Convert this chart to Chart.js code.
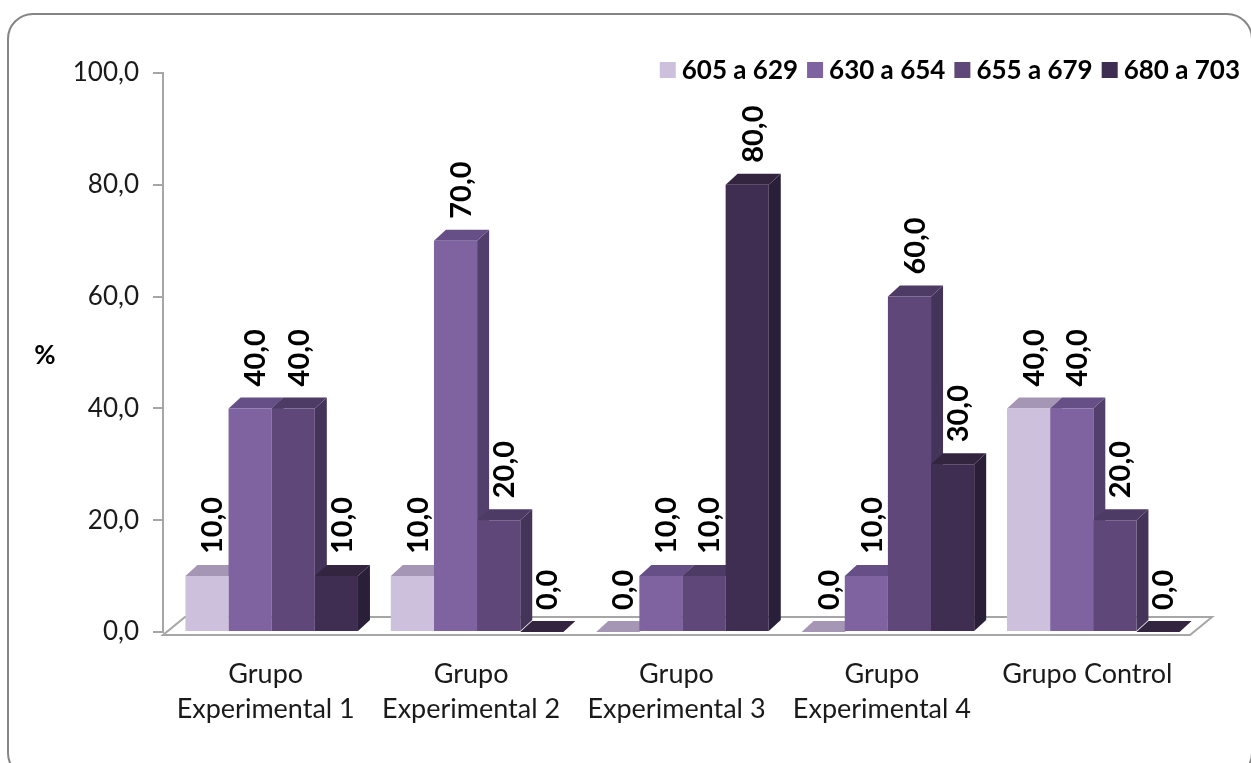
<!DOCTYPE html>
<html>
<head>
<meta charset="utf-8">
<script src="https://cdn.jsdelivr.net/npm/chart.js@4.4.0/dist/chart.umd.min.js"></script>
<style>
  html, body { margin: 0; padding: 0; background: #fff; }
  #wrap { position: relative; width: 1251px; height: 763px; overflow: hidden; }
  #frame {
    position: absolute; left: 7px; top: 13px; width: 1246px; height: 766px;
    border: 2px solid #858585; border-radius: 26px; box-sizing: border-box;
  }
  #myChart { position: absolute; left: 0; top: 0; }
</style>
</head>
<body>
<div id="wrap">
  <div id="frame"></div>
  <canvas id="myChart" width="1251" height="763"></canvas>
</div>
<script>
// categories and series
const grupos = [
  ["Grupo", "Experimental 1"],
  ["Grupo", "Experimental 2"],
  ["Grupo", "Experimental 3"],
  ["Grupo", "Experimental 4"],
  "Grupo Control"
];
const rangos = ["605 a 629", "630 a 654", "655 a 679", "680 a 703"];
const r605 = [10, 10, 0, 0, 40];
const r630 = [40, 70, 10, 10, 40];
const r655 = [40, 20, 10, 60, 20];
const r680 = [10, 0, 80, 30, 0];
const yTicks = [0, 20, 40, 60, 80, 100];

const frontColors = ["#ccc0dd", "#7f63a1", "#5f4879", "#3f2e51"];
const topColors = ["#a496b4", "#654f86", "#4d3a65", "#33253f"];
const sideColors = ["#9d8fae", "#533f6c", "#45345a", "#2a1f38"];

const FONT = "Lato, 'Open Sans', sans-serif";
const DEPTH_X = 12, DEPTH_Y = 11;   // 3d depth of the bars
const SHIFT_X = 6;                  // bars sit a bit behind the front plane
const FLOOR_X = 22, FLOOR_Y = 18;

const fmt = (v) => v.toFixed(1).replace(".", ",");

// 3d faces, floor, labels, legend
const fake3d = {
    id: "fake3d",
    beforeDatasetsDraw(chart) {
        const ctx = chart.ctx;
        const a = chart.chartArea;
        // floor
        ctx.save();
        ctx.beginPath();
        ctx.moveTo(a.left, a.bottom + 3);
        ctx.lineTo(a.right, a.bottom + 3);
        ctx.lineTo(a.right + FLOOR_X, a.bottom + 3 - FLOOR_Y);
        ctx.lineTo(a.left + FLOOR_X, a.bottom + 3 - FLOOR_Y);
        ctx.closePath();
        ctx.fillStyle = "#ffffff";
        ctx.fill();
        ctx.strokeStyle = "#a6a6a6";
        ctx.lineWidth = 2;
        ctx.stroke();
        ctx.restore();

        ctx.save();
        ctx.translate(SHIFT_X, 0);
        const metas = chart.data.datasets.map((d, i) => chart.getDatasetMeta(i));
        // side faces first, then tops, fronts are drawn by chart.js
        metas.forEach((meta, di) => {
            meta.data.forEach((bar) => {
                const r = bar.x + bar.width / 2;
                ctx.beginPath();
                ctx.moveTo(r, bar.y);
                ctx.lineTo(r + DEPTH_X, bar.y - DEPTH_Y);
                ctx.lineTo(r + DEPTH_X, bar.base - DEPTH_Y);
                ctx.lineTo(r, bar.base);
                ctx.closePath();
                ctx.fillStyle = sideColors[di];
                ctx.fill();
            });
        });
        metas.forEach((meta, di) => {
            meta.data.forEach((bar) => {
                const l = bar.x - bar.width / 2;
                const r = bar.x + bar.width / 2;
                ctx.beginPath();
                ctx.moveTo(l, bar.y);
                ctx.lineTo(r, bar.y);
                ctx.lineTo(r + DEPTH_X, bar.y - DEPTH_Y);
                ctx.lineTo(l + DEPTH_X, bar.y - DEPTH_Y);
                ctx.closePath();
                ctx.fillStyle = topColors[di];
                ctx.fill();
            });
        });
    },
    afterDatasetsDraw(chart) {
        const ctx = chart.ctx;
        ctx.restore();
        // value labels, rotated
        ctx.save();
        ctx.font = "bold 29px " + FONT;
        ctx.fillStyle = "#000";
        ctx.textAlign = "left";
        ctx.textBaseline = "middle";
        chart.data.datasets.forEach((ds, di) => {
            chart.getDatasetMeta(di).data.forEach((bar, i) => {
                ctx.save();
                ctx.translate(bar.x + SHIFT_X + DEPTH_X / 2, bar.y - 22);
                ctx.rotate(-Math.PI / 2);
                ctx.fillText(fmt(ds.data[i]), 0, 0);
                ctx.restore();
            });
        });
        ctx.restore();
    },
    afterDraw(chart) {
        const ctx = chart.ctx;
        const a = chart.chartArea;
        ctx.save();
        // "%" axis title
        ctx.font = "bold 26px " + FONT;
        ctx.fillStyle = "#000";
        ctx.textAlign = "center";
        ctx.textBaseline = "middle";
        ctx.fillText("%", a.left - 118, 356);
        // legend, right aligned at the top
        ctx.font = "bold 26px " + FONT;
        ctx.textAlign = "left";
        const box = 16, gap = 6, sep = 9;
        const widths = rangos.map((t) => ctx.measureText(t).width);
        let total = widths.reduce((s, w) => s + box + gap + w, 0) + sep * (rangos.length - 1);
        let x = 1240 - total;
        const y = 70;
        rangos.forEach((t, i) => {
            ctx.fillStyle = frontColors[i];
            ctx.fillRect(x, y - box / 2, box, box);
            ctx.fillStyle = "#000";
            ctx.fillText(t, x + box + gap, y + 1);
            x += box + gap + widths[i] + sep;
        });
        ctx.restore();
    }
};

const series = [r605, r630, r655, r680];

new Chart(document.getElementById("myChart"), {
    type: "bar",
    data: {
        labels: grupos,
        datasets: series.map((vals, i) => ({
            label: rangos[i],
            data: vals,
            backgroundColor: frontColors[i],
            borderWidth: 0,
            clip: false,
            categoryPercentage: 0.84,
            barPercentage: 1.0,
        })),
    },
    options: {
        responsive: false,
        animation: false,
        layout: { padding: { left: 0, right: 61, top: 73, bottom: 0 } },
        plugins: {
            legend: { display: false },
            tooltip: { enabled: false },
        },
        scales: {
            x: {
                grid: { display: false },
                border: { display: false },
                ticks: {
                    color: "#1a1a1a",
                    font: { family: FONT, size: 27, lineHeight: 1.3 },
                    padding: 17,
                    maxRotation: 0,
                    autoSkip: false,
                },
                afterFit(scale) { scale.height = 131; },
            },
            y: {
                min: 0,
                max: 100,
                afterBuildTicks(scale) { scale.ticks = yTicks.map((v) => ({ value: v })); },
                grid: {
                    drawOnChartArea: false,
                    drawTicks: true,
                    tickLength: 10,
                    color: "#a6a6a6",
                    lineWidth: 2,
                },
                border: { display: true, color: "#a6a6a6", width: 2 },
                ticks: {
                    color: "#1a1a1a",
                    font: { family: FONT, size: 26 },
                    padding: 14,
                    callback: (v) => fmt(v),
                },
                afterFit(scale) { scale.width = 163; },
            },
        },
    },
    plugins: [fake3d],
});
</script>
</body>
</html>
